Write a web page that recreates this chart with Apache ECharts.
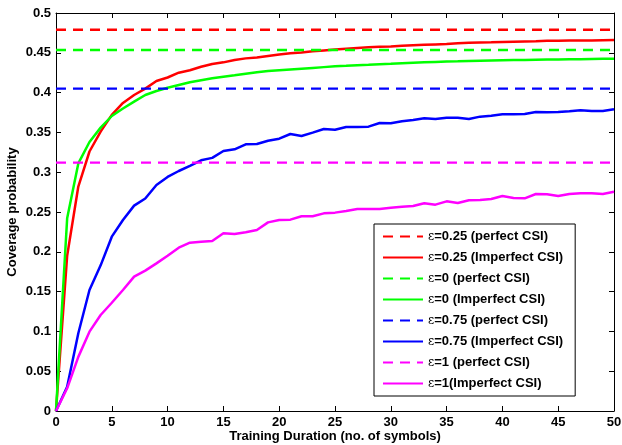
<!DOCTYPE html>
<html>
<head>
<meta charset="utf-8">
<script src="https://cdn.jsdelivr.net/npm/echarts@6/dist/echarts.min.js"></script>
<style>html,body{margin:0;padding:0;background:#fff}#c{width:622px;height:445px}</style>
</head>
<body>
<div id="c"></div>
<script>
const xs = [0,1,2,3,4,5,6,7,8,9,10,11,12,13,14,15,16,17,18,19,20,21,22,23,24,25,26,27,28,29,30,31,32,33,34,35,36,37,38,39,40,41,42,43,44,45,46,47,48,49,50];
const perfect025 = 0.479;
const perfect0 = 0.4535;
const perfect075 = 0.405;
const perfect1 = 0.312;
const imperfect025 = [0,0.195,0.282,0.326,0.351,0.372,0.387,0.397,0.405,0.4145,0.419,0.425,0.428,0.4325,0.436,0.438,0.441,0.443,0.444,0.446,0.448,0.4495,0.4505,0.452,0.453,0.454,0.455,0.456,0.457,0.4575,0.458,0.459,0.4595,0.460,0.4605,0.461,0.462,0.4625,0.463,0.4633,0.4637,0.464,0.4643,0.4646,0.465,0.465,0.4653,0.4655,0.4656,0.4658,0.466];
const imperfect0 = [0,0.242,0.311,0.338,0.356,0.3706,0.380,0.3886,0.397,0.402,0.406,0.4095,0.413,0.4155,0.418,0.420,0.4217,0.4237,0.4255,0.427,0.428,0.429,0.430,0.431,0.432,0.433,0.4337,0.4345,0.435,0.4357,0.4363,0.437,0.4375,0.438,0.4385,0.439,0.4393,0.4397,0.440,0.4403,0.4406,0.4409,0.4411,0.4413,0.4415,0.4417,0.4419,0.442,0.4422,0.4424,0.4426];
const imperfect075 = [0,0.0305,0.0976,0.152,0.183,0.219,0.240,0.258,0.267,0.284,0.294,0.3015,0.308,0.315,0.318,0.3266,0.3287,0.335,0.3354,0.3396,0.3421,0.348,0.3455,0.3497,0.3543,0.3534,0.3568,0.3568,0.3572,0.3618,0.3614,0.364,0.3656,0.3677,0.3668,0.3685,0.3685,0.3668,0.3698,0.371,0.3727,0.3727,0.3731,0.3756,0.3752,0.3756,0.3765,0.3777,0.3769,0.3769,0.379];
const imperfect1 = [0,0.0285,0.068,0.0997,0.1206,0.136,0.152,0.1688,0.1763,0.1855,0.195,0.2052,0.2115,0.2127,0.2136,0.2232,0.2224,0.2245,0.2274,0.237,0.240,0.2404,0.2446,0.2446,0.2483,0.2492,0.2513,0.2538,0.2538,0.2538,0.2554,0.2567,0.2575,0.2609,0.2592,0.2634,0.2613,0.2647,0.2651,0.2663,0.270,0.2676,0.2672,0.2726,0.2722,0.270,0.2726,0.2735,0.2735,0.2726,0.2755];
const names = ['ε=0.25 (perfect CSI)','ε=0.25 (Imperfect CSI)','ε=0 (perfect CSI)','ε=0 (Imperfect CSI)','ε=0.75 (perfect CSI)','ε=0.75 (Imperfect CSI)','ε=1 (perfect CSI)','ε=1(Imperfect CSI)'];
const xTicks = [0,5,10,15,20,25,30,35,40,45,50];
const yTicks = [0,0.05,0.1,0.15,0.2,0.25,0.3,0.35,0.4,0.45,0.5];

const FONT = "'Liberation Sans', Arial, sans-serif";
const chart = echarts.init(document.getElementById('c'));
function flat(v){ return [[xs[0], v],[xs[xs.length-1], v]]; }
function pairs(arr){ return xs.map((x,i)=>[x,arr[i]]); }
function dashed(name,color,v){
  return {name, type:'line', data:flat(v), symbol:'none', xAxisIndex:0, yAxisIndex:0,
    lineStyle:{color, width:2.4, type:[10,7]}, itemStyle:{color}, animation:false};
}
function solid(name,color,arr){
  return {name, type:'line', data:pairs(arr), symbol:'none', xAxisIndex:0, yAxisIndex:0,
    lineStyle:{color, width:2.5}, itemStyle:{color}, animation:false};
}
const axisCommon = {
  axisLine:{show:true, onZero:false, lineStyle:{color:'#000', width:1}},
  axisTick:{show:true, inside:true, length:5, lineStyle:{color:'#000'}},
  splitLine:{show:false},
};
chart.setOption({
  animation:false,
  backgroundColor:'#fff',
  grid:{left:56, right:8, top:13, bottom:34, containLabel:false, outerBoundsMode:'none'},
  xAxis:[
    Object.assign({type:'value', min:xTicks[0], max:xTicks[xTicks.length-1], interval:5, position:'bottom',
      name:'Training Duration (no. of symbols)', nameLocation:'middle', nameGap:19, nameMoveOverlap:false,
      nameTextStyle:{fontFamily:FONT, fontWeight:'bold', fontSize:13, color:'#000'},
      axisLabel:{fontFamily:FONT, fontWeight:'bold', fontSize:13, color:'#000', margin:5}}, axisCommon),
    Object.assign({type:'value', min:0, max:50, interval:5, position:'top', axisLabel:{show:false}}, axisCommon)
  ],
  yAxis:[
    Object.assign({type:'value', min:yTicks[0], max:yTicks[yTicks.length-1], interval:0.05, position:'left',
      name:'Coverage probability', nameLocation:'middle', nameGap:37, nameMoveOverlap:false,
      nameTextStyle:{fontFamily:FONT, fontWeight:'bold', fontSize:13, color:'#000'},
      axisLabel:{fontFamily:FONT, fontWeight:'bold', fontSize:13, color:'#000', margin:5}}, axisCommon),
    Object.assign({type:'value', min:0, max:0.5, interval:0.05, position:'right', axisLabel:{show:false}}, axisCommon)
  ],
  legend:{
    orient:'vertical', left:374, top:224, data:names,
    backgroundColor:'#fff', borderColor:'#000', borderWidth:1, borderRadius:0,
    padding:[6,12,6,8], itemWidth:40, itemHeight:14, itemGap:8,
    itemStyle:{opacity:0},
    formatter:function(n){ return '{e|ε}{t|' + n.slice(1) + '}'; },
    textStyle:{color:'#000', fontFamily:FONT, fontWeight:'bold', fontSize:13,
      rich:{e:{fontFamily:"'DejaVu Serif', serif", fontWeight:'normal', fontSize:12, color:'#000'},
            t:{fontFamily:FONT, fontWeight:'bold', fontSize:13, color:'#000'}}}
  },
  series:[
    dashed(names[0],'#ff0000',perfect025),
    solid(names[1],'#ff0000',imperfect025),
    dashed(names[2],'#00ff00',perfect0),
    solid(names[3],'#00ff00',imperfect0),
    dashed(names[4],'#0000ff',perfect075),
    solid(names[5],'#0000ff',imperfect075),
    dashed(names[6],'#ff00ff',perfect1),
    solid(names[7],'#ff00ff',imperfect1)
  ]
});
</script>
</body>
</html>
